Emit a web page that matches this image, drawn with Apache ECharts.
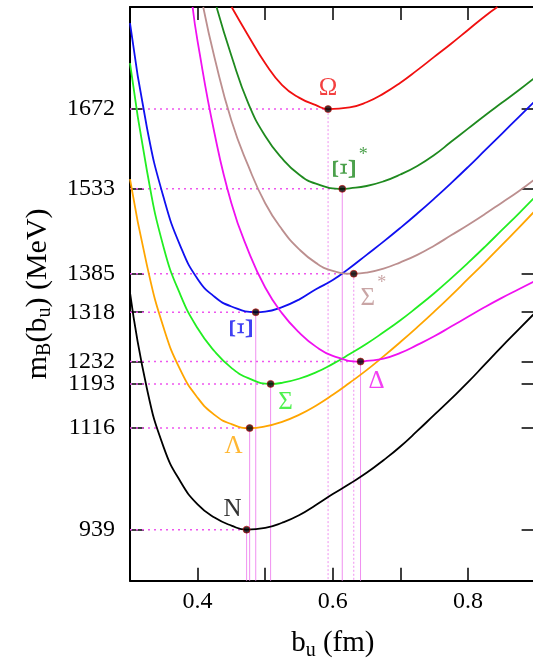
<!DOCTYPE html>
<html><head><meta charset="utf-8">
<script src="https://cdn.jsdelivr.net/npm/echarts@6/dist/echarts.min.js"></script>
<style>html,body{margin:0;padding:0;background:#fff}#c{width:533px;height:658px}</style>
</head><body><div id="c"></div>
<script>
// ---- data ----
const xTickValues = [0.3, 0.4, 0.5, 0.6, 0.7, 0.8, 0.9];
const xLabelValues = [0.4, 0.6, 0.8];
const yTickValues = [939, 1116, 1193, 1232, 1318, 1385, 1533, 1672];

const baryons = ['N', 'Λ', 'Σ', 'Ξ', 'Δ', 'Σ*', 'Ξ*', 'Ω'];
const minB = [0.4725, 0.477, 0.508, 0.486, 0.641, 0.631, 0.614, 0.593];
const minM = [939, 1116, 1193, 1318, 1232, 1385, 1533, 1672];

const curveN = [[0.3,1352],[0.325,1185],[0.35,1082],[0.375,1022],[0.4,983],[0.425,960],[0.45,946],[0.4725,939],[0.5,942],[0.525,951],[0.55,964],[0.575,982],[0.6,1001],[0.625,1019],[0.65,1038],[0.675,1060],[0.7,1084],[0.725,1111],[0.75,1139],[0.775,1167],[0.8,1196],[0.825,1227],[0.85,1258],[0.875,1288],[0.9,1318]];
const curveLambda = [[0.3,1550],[0.325,1400],[0.35,1290],[0.375,1216],[0.4,1169],[0.425,1139],[0.45,1123],[0.477,1116],[0.5,1119],[0.525,1127],[0.55,1139],[0.575,1155],[0.6,1174],[0.625,1195],[0.65,1217],[0.675,1241],[0.7,1266],[0.725,1292],[0.75,1319],[0.775,1347],[0.8,1376],[0.825,1405],[0.85,1435],[0.875,1465],[0.9,1496]];
const curveSigma = [[0.3,1752],[0.325,1565],[0.35,1430],[0.375,1347],[0.4,1290],[0.425,1250],[0.45,1221],[0.475,1203],[0.508,1193],[0.525,1195],[0.55,1202],[0.575,1213],[0.6,1228],[0.625,1245],[0.65,1263],[0.675,1283],[0.7,1304],[0.725,1327],[0.75,1351],[0.775,1377],[0.8,1404],[0.825,1432],[0.85,1461],[0.875,1490],[0.9,1520]];
const curveXi = [[0.3,1822],[0.325,1640],[0.35,1517],[0.375,1432],[0.4,1376],[0.425,1345],[0.45,1328],[0.486,1318],[0.5,1319],[0.525,1327],[0.55,1340],[0.575,1358],[0.6,1374],[0.625,1395],[0.65,1418],[0.675,1441],[0.7,1465],[0.725,1490],[0.75,1516],[0.775,1543],[0.8,1571],[0.825,1600],[0.85,1629],[0.875,1658],[0.9,1687]];
const curveDelta = [[0.3926,1850],[0.4,1790],[0.425,1630],[0.45,1508],[0.475,1425],[0.5,1361],[0.525,1316],[0.55,1283],[0.575,1258],[0.6,1242],[0.641,1232],[0.65,1233],[0.675,1237],[0.7,1247],[0.725,1261],[0.75,1276],[0.775,1293],[0.8,1310],[0.825,1327],[0.85,1343],[0.875,1358],[0.9,1373]];
const curveSigmaStar = [[0.4083,1850],[0.425,1762],[0.45,1652],[0.475,1573],[0.5,1508],[0.525,1462],[0.55,1428],[0.575,1404],[0.6,1390],[0.631,1385],[0.65,1387],[0.675,1394],[0.7,1405],[0.725,1418],[0.75,1434],[0.775,1452],[0.8,1470],[0.825,1489],[0.85,1509],[0.875,1529],[0.9,1551]];
const curveXiStar = [[0.428,1850],[0.45,1765],[0.475,1682],[0.5,1625],[0.525,1586],[0.55,1558],[0.575,1542],[0.614,1533],[0.625,1534],[0.65,1538],[0.675,1546],[0.7,1558],[0.725,1573],[0.75,1592],[0.775,1615],[0.8,1638],[0.825,1661],[0.85,1683],[0.875,1705],[0.9,1728]];
const curveOmega = [[0.4503,1850],[0.475,1800],[0.5,1752],[0.525,1714],[0.55,1692],[0.575,1679],[0.593,1672],[0.625,1675],[0.65,1684],[0.675,1699],[0.7,1718],[0.725,1740],[0.75,1763],[0.775,1786],[0.8,1810],[0.825,1834],[0.8435,1850]];

const curves = [curveN, curveLambda, curveSigma, curveXi, curveDelta, curveSigmaStar, curveXiStar, curveOmega];

// ---- styles ----
const X_MIN = 0.3, X_MAX = 0.9, Y_MIN = 850, Y_MAX = 1850;
const colors = ['#000000', '#ffa500', '#22ee22', '#1010f0', '#f010f0', '#bc8f8f', '#1f8a1f', '#f01010'];
const vertDotted = [false, false, false, false, false, true, false, true];
// label offsets in label-local frame (rotated labels use rotated frame)
const labelOffset = [[-14,-20],[-16,18],[15,19],[-16,-13],[16,20],[14,25],[20,4],[0,-21]];
const labelRotate = [0, 0, 0, 90, 0, 0, 90, 0];
const labelSize = [25, 25, 25, 34, 25, 25, 34, 25];
const starOffset = {5: [28, 9], 6: [21, -34]};
const SERIF = '"Liberation Serif", "DejaVu Serif", serif';

const series = [];
// reference lines
for (let i = 0; i < baryons.length; i++) {
  series.push({
    type: 'line', data: [[X_MIN, minM[i]], [minB[i], minM[i]]],
    symbol: 'none', silent: true, z: 1,
    lineStyle: {color: '#ee55ee', width: 1.5, type: [2, 4]}
  });
  series.push({
    type: 'line', data: [[minB[i], minM[i]], [minB[i], Y_MIN]],
    symbol: 'none', silent: true, z: 1,
    lineStyle: {color: '#f090f0', width: 1, type: vertDotted[i] ? [2, 2] : 'solid'}
  });
}
// curves
curves.forEach((c, i) => {
  series.push({
    type: 'line', data: c, symbol: 'none', smooth: true, z: 3,
    lineStyle: {color: colors[i], width: 1.8}
  });
});
// minima dots
series.push({
  type: 'scatter', z: 5, symbolSize: 7,
  data: minB.map((b, i) => [b, minM[i]]),
  itemStyle: {color: '#000', borderColor: '#d01010', borderWidth: 0.8}
});
// labels
baryons.forEach((name, i) => {
  series.push({
    type: 'scatter', z: 6, symbolSize: 0, silent: true,
    data: [[minB[i], minM[i]]],
    label: {
      show: true, position: 'inside', offset: labelOffset[i], rotate: labelRotate[i],
      formatter: name.replace('*', ''), color: colors[i],
      fontFamily: SERIF, fontSize: labelSize[i], align: 'center', verticalAlign: 'middle'
    }
  });
  if (starOffset[i]) {
    series.push({
      type: 'scatter', z: 6, symbolSize: 0, silent: true,
      data: [[minB[i], minM[i]]],
      label: {
        show: true, position: 'inside', offset: starOffset[i],
        formatter: '*', color: colors[i],
        fontFamily: SERIF, fontSize: 18, align: 'center', verticalAlign: 'middle'
      }
    });
  }
});

const axisLine = {show: true, onZero: false, lineStyle: {color: '#000', width: 2}};
const tickStyle = {color: '#000', width: 1.5};

const option = {
  animation: false,
  backgroundColor: '#fff',
  grid: {left: 130, top: 7, width: 405.6, height: 573.7, containLabel: false, outerBoundsMode: 'none'},
  xAxis: [{
    type: 'value', position: 'bottom', min: X_MIN, max: X_MAX, interval: 0.1,
    axisLine: axisLine,
    axisTick: {show: true, inside: true, length: 13, lineStyle: tickStyle, customValues: xTickValues},
    axisLabel: {show: true, customValues: xLabelValues, margin: 9, color: '#000',
      fontFamily: SERIF, fontSize: 24, formatter: v => v.toFixed(1)},
    splitLine: {show: false},
    name: '{a|b}{s|u}{a| (fm)}', nameLocation: 'middle', nameGap: 35,
    nameTextStyle: {rich: {
      a: {fontFamily: SERIF, fontSize: 29, color: '#000', lineHeight: 32, verticalAlign: 'top'},
      s: {fontFamily: SERIF, fontSize: 20, color: '#000', lineHeight: 20, padding: [22, 0, 0, 0], verticalAlign: 'bottom'}
    }}
  }, {
    type: 'value', position: 'top', min: X_MIN, max: X_MAX, interval: 0.1,
    axisLine: axisLine,
    axisTick: {show: true, inside: true, length: 13, lineStyle: tickStyle, customValues: xTickValues},
    axisLabel: {show: false}, splitLine: {show: false}
  }],
  yAxis: [{
    type: 'value', position: 'left', min: Y_MIN, max: Y_MAX,
    axisLine: axisLine,
    axisTick: {show: true, inside: true, length: 14, lineStyle: tickStyle, customValues: yTickValues},
    axisLabel: {show: true, customValues: yTickValues, margin: 15, color: '#000',
      fontFamily: SERIF, fontSize: 24, formatter: v => String(v)},
    splitLine: {show: false},
    name: '{a|m}{s|B}{a|(b}{s|u}{a|) (MeV)}', nameLocation: 'middle', nameGap: 75, nameRotate: 90,
    nameTextStyle: {rich: {
      a: {fontFamily: SERIF, fontSize: 30, color: '#000', lineHeight: 32, verticalAlign: 'top'},
      s: {fontFamily: SERIF, fontSize: 20, color: '#000', lineHeight: 20, padding: [22, 0, 0, 0], verticalAlign: 'bottom'}
    }}
  }, {
    type: 'value', position: 'right', min: Y_MIN, max: Y_MAX,
    axisLine: axisLine,
    axisTick: {show: true, inside: true, length: 14, lineStyle: tickStyle, customValues: yTickValues},
    axisLabel: {show: false}, splitLine: {show: false}
  }],
  series: series
};

const chart = echarts.init(document.getElementById('c'), null, {renderer: 'canvas'});
chart.setOption(option);
</script>
</body></html>
